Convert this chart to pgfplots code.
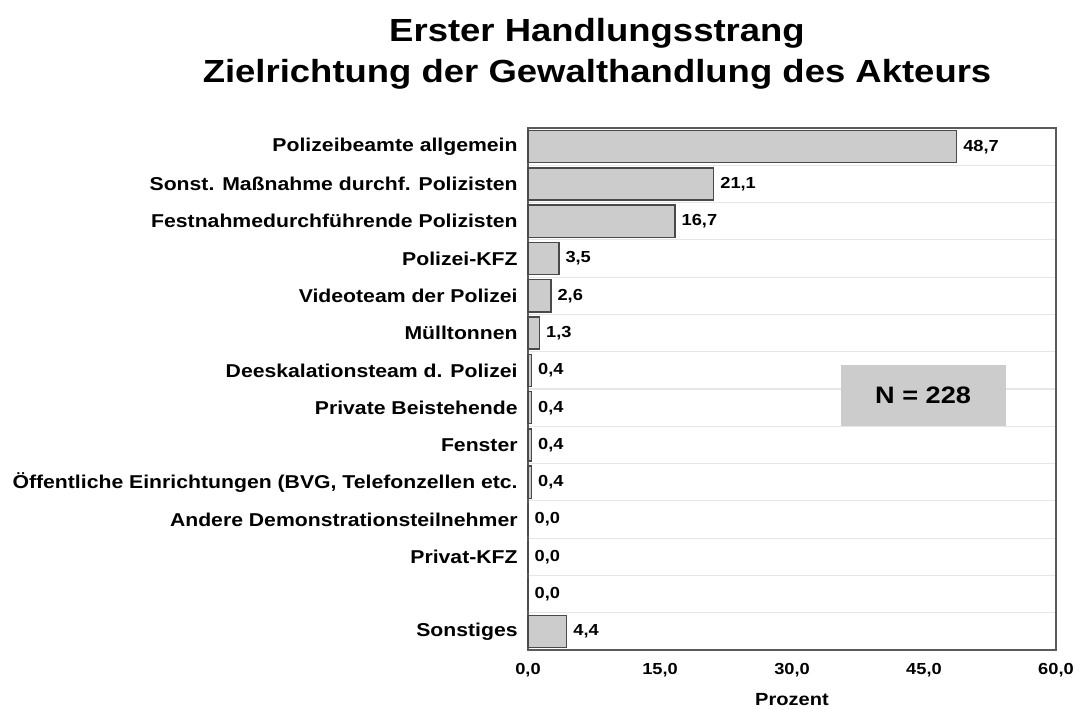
\documentclass[border=0pt]{standalone}
\usepackage{pgfplots}
\pgfplotsset{compat=1.18}
\usepackage{fontspec}
\setmainfont[FakeStretch=1.14]{Liberation Sans}
\definecolor{barfill}{HTML}{CCCCCC}
\definecolor{baredge}{HTML}{4A4A4A}
\definecolor{axcol}{HTML}{5A5A5A}
\definecolor{sepcol}{HTML}{E6E6E6}
\begin{document}
\begin{tikzpicture}
\path[use as bounding box] (0,0) rectangle (540pt,354.5pt);
\begin{axis}[
  at={(264pt,29.5pt)}, anchor=south west,
  scale only axis, width=264pt, height=261pt,
  xmin=0, xmax=60, ymin=0.5, ymax=14.5, y dir=reverse,
  xtick={0,15,30,45,60},
  ytick={1,...,14},
  yticklabels={Polizeibeamte allgemein,Sonst. Maßnahme durchf. Polizisten,Festnahmedurchführende Polizisten,Polizei-KFZ,Videoteam der Polizei,Mülltonnen,Deeskalationsteam d. Polizei,Private Beistehende,Fenster,{Öffentliche Einrichtungen (BVG, Telefonzellen etc.},Andere Demonstrationsteilnehmer,Privat-KFZ,{},Sonstiges},
  minor ytick={1.5,2.5,...,13.5},
  ymajorgrids=false, yminorgrids=true,
  minor grid style={sepcol, line width=0.6pt},
  major tick length=0pt, minor tick length=0pt,
  axis line style={axcol, line width=0.9pt},
  /pgf/number format/assume math mode=true,
  xticklabel style={font=\bfseries\fontsize{8}{9}\selectfont, /pgf/number format/.cd, fixed, fixed zerofill, precision=1, use comma},
  yticklabel style={font=\bfseries\fontsize{9.3}{10}\selectfont, inner sep=0pt, xshift=-5pt},
  xticklabel shift=3pt,
  xlabel={Prozent},
  xlabel style={font=\bfseries\fontsize{8.8}{10}\selectfont, at={(axis description cs:0.5,0)}, anchor=center, yshift=-25pt},
  xbar, bar width=0.86, bar shift=0pt,
  nodes near coords,
  nodes near coords style={font=\bfseries\fontsize{8}{9}\selectfont, anchor=west, inner sep=1pt, xshift=2pt, /pgf/number format/.cd, fixed, fixed zerofill, precision=1, use comma},
  clip=false,
]
\addplot[fill=barfill, draw=baredge, line width=0.7pt] coordinates {
(48.7,1) (21.1,2) (16.7,3) (3.5,4) (2.6,5) (1.3,6) (0.4,7) (0.4,8) (0.4,9) (0.4,10) (0.0,11) (0.0,12) (0.0,13) (4.4,14)};
\node[fill=barfill, minimum width=82.5pt, minimum height=30.5pt, inner sep=0pt, font=\bfseries\fontsize{11.9}{13}\selectfont] at (axis cs:44.9,7.68) {N = 228};
\end{axis}
\node[font=\bfseries\fontsize{16}{20.8}\selectfont, align=center, anchor=north] at (298.5pt,349pt) {Erster Handlungsstrang\\Zielrichtung der Gewalthandlung des Akteurs};
\end{tikzpicture}
\end{document}
